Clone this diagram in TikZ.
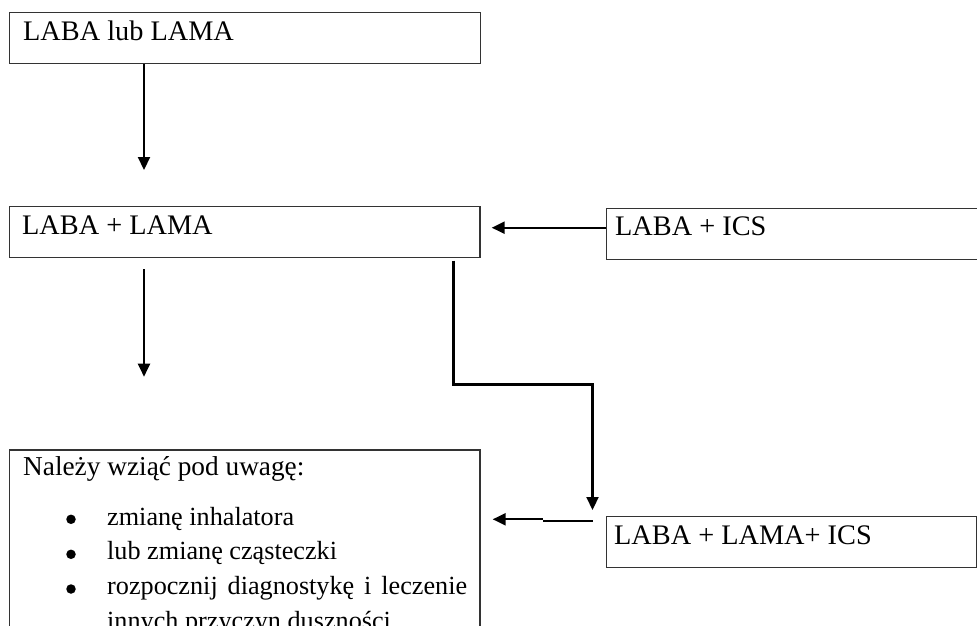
\documentclass[tikz,border=0pt]{standalone}
\usepackage{fontspec}
\setmainfont{Liberation Serif}
\usetikzlibrary{arrows.meta}
\begin{document}
\begin{tikzpicture}[x=1pt,y=-1pt,
  box/.style={draw=black!80, line width=1.2pt, rectangle, inner sep=0pt, anchor=north west},
  lbl/.style={inner sep=0pt, anchor=base west, font=\fontsize{28.3}{34}\selectfont},
  hdr/.style={inner sep=0pt, anchor=base west, font=\fontsize{27.3}{34}\selectfont},
  item/.style={inner sep=0pt, anchor=base west, font=\fontsize{26.2}{34}\selectfont},
  bul/.style={circle, fill=black, inner sep=0pt, minimum size=9.5pt},
  arr/.style={line width=2.2pt, -{Triangle[length=13pt,width=12pt]}},
  ln/.style={line width=2.2pt}]
\clip (0,0) rectangle (977,626);
% boxes
\node[box, minimum width=471pt, minimum height=50.4pt] (b1) at (9,12.3) {};
\node[box, minimum width=470.3pt, minimum height=50.7pt] (b2) at (9,206) {};
\node[box, minimum width=380pt, minimum height=51.3pt] (b3) at (605.7,207.7) {};
\node[box, minimum width=470.3pt, minimum height=200pt] (b4) at (9,449.3) {};
\node[box, minimum width=370pt, minimum height=50.7pt] (b5) at (605.7,516) {};
% texts
\node[lbl] (t1) at (23,40.7) {LABA lub LAMA};
\node[lbl] (t2) at (22,234.3) {LABA + LAMA};
\node[lbl] (t3) at (615,235) {LABA + ICS};
\node[lbl] (t5) at (614,544) {LABA + LAMA+ ICS};
\node[hdr] (t4) at (23,475) {Należy wziąć pod uwagę:};
\node[bul] (u1) at (71,519.3) {};
\node[bul] (u2) at (71,554.3) {};
\node[bul] (u3) at (71,589) {};
\node[item] (i1) at (107,525) {zmianę inhalatora};
\node[item] (i2) at (107,559.7) {lub zmianę cząsteczki};
\node[item] (i3) at (107,594.4) {\makebox[360pt][s]{rozpocznij diagnostykę i leczenie}};
\node[item] (i4) at (107,629.1) {innych przyczyn duszności};
% connector end points
\coordinate (a1e) at (144,170);
\coordinate (a2s) at (144,269);
\coordinate (a2e) at (144,376.7);
\coordinate (c3) at (491.7,227.7);
\coordinate (ea) at (453.5,384.5);
\coordinate (eb) at (592.5,384.5);
\coordinate (ec) at (592.5,510);
\coordinate (s5) at (592.5,520.7);
\coordinate (m5) at (543,520.7);
\coordinate (m5b) at (543,519.3);
\coordinate (c4) at (492.7,519.3);
% connectors
\draw[arr] (b1.south -| a1e) -- (a1e);
\draw[arr] (a2s) -- (a2e);
\draw[arr] (b3.north west |- c3) -- (c3);
\draw[arr] ([yshift=-2.6pt]b2.south -| ea) -- (ea) -- (eb) -- (ec);
\draw[ln] (s5) -- (m5);
\draw[arr] (m5b) -- (c4);
\end{tikzpicture}
\end{document}
